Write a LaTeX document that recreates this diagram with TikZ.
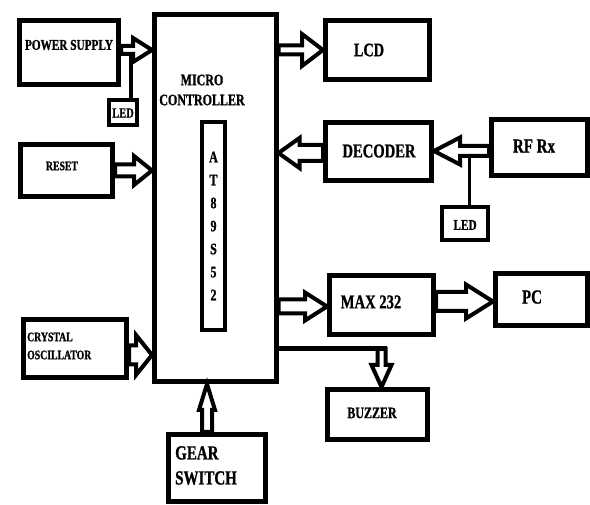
\documentclass[tikz,border=0pt]{standalone}
\usepackage{fontspec}
\setmainfont{Liberation Serif}[FakeStretch=0.75, FakeBold=1]
\usetikzlibrary{calc,backgrounds}
\tikzset{
  box/.style={draw, line width=5pt, inner sep=0pt, rectangle},
  ledbox/.style={draw, line width=4pt, inner sep=0pt, rectangle},
  txt/.style={inner sep=0pt, font=\bfseries},
  harrowst/.style={draw, fill=white, line width=4pt, line join=miter, miter limit=6},
  wire/.style={draw, line width=4pt},
}
\newcommand{\fsz}[2]{\fontsize{#1}{#2}\selectfont}
% hollow arrow: from, to, shaft width, head width, head length
\newcommand{\harr}[5]{%
  \path[harrowst] let \p1=(#1), \p2=(#2),
    \n1={atan2(\y2-\y1,\x2-\x1)}, \n2={veclen(\x2-\x1,\y2-\y1)} in
    [shift={(\p1)}, rotate=\n1]
    (0pt,{#3/2*1pt}) -- ({(\n2-#5)*1pt},{#3/2*1pt}) -- ({(\n2-#5)*1pt},{#4/2*1pt})
    -- ({\n2*1pt},0pt) -- ({(\n2-#5)*1pt},{-#4/2*1pt}) -- ({(\n2-#5)*1pt},{-#3/2*1pt})
    -- (0pt,{-#3/2*1pt}) -- cycle;}
\begin{document}
\begin{tikzpicture}[x=1pt,y=-1pt]
\useasboundingbox (0,0) rectangle (590,505);
% boxes
\node[box, minimum width=99pt, minimum height=64pt] (ps) at (69,52.5) {};
\node[ledbox, minimum width=28pt, minimum height=25pt] (ledl) at (123,112.5) {};
\node[box, minimum width=92pt, minimum height=52pt] (rst) at (66.5,170.5) {};
\node[box, minimum width=103pt, minimum height=58pt] (cry) at (75,348.5) {};
\node[box, minimum width=97pt, minimum height=67pt] (gear) at (217,468) {};
\node[box, minimum width=121.5pt, minimum height=367pt] (mc) at (215.25,198) {};
\node[ledbox, minimum width=23pt, minimum height=208pt] (at) at (213.5,226) {};
\node[box, minimum width=104pt, minimum height=59pt] (lcd) at (377.5,50) {};
\node[box, minimum width=106pt, minimum height=58pt] (dec) at (378.5,151.5) {};
\node[box, minimum width=96pt, minimum height=56pt] (rf) at (539.5,147.5) {};
\node[ledbox, minimum width=46pt, minimum height=33pt] (ledr) at (465,223.5) {};
\node[box, minimum width=104pt, minimum height=59pt] (max) at (381.5,305) {};
\node[box, minimum width=92pt, minimum height=52pt] (pc) at (541.5,299.5) {};
\node[box, minimum width=100pt, minimum height=50pt] (buz) at (377.5,414.5) {};
% texts
\node[txt, font=\bfseries\fsz{15}{15}] (psT) at (69,45) {POWER SUPPLY};
\node[txt, font=\bfseries\fsz{16}{20}, align=center] (mcT) at (202,90) {MICRO\\CONTROLLER};
\node[txt, font=\bfseries\fsz{14}{14}] (ledlT) at (123,113) {LED};
\node[txt, font=\bfseries\fsz{13}{13}] (rstT) at (62,166) {RESET};
\node[txt, font=\bfseries\fsz{13}{18}, align=left, anchor=west] (cryT) at (27,346) {CRYSTAL\\OSCILLATOR};
\node[txt, font=\bfseries\fsz{20}{25}, align=left, anchor=west] (gearT) at (175,465.5) {GEAR\\SWITCH};
\node[txt, font=\bfseries\fsz{16}{23}, align=center] (atT) at (213.5,226) {A\\T\\8\\9\\S\\5\\2};
\node[txt, font=\bfseries\fsz{19}{19}] (lcdT) at (369,50) {LCD};
\node[txt, font=\bfseries\fsz{19.5}{19.5}] (decT) at (379,151) {DECODER};
\node[txt, font=\bfseries\fsz{20}{20}] (rfT) at (534,146) {RF Rx};
\node[txt, font=\bfseries\fsz{15}{15}] (ledrT) at (465,225) {LED};
\node[txt, font=\bfseries\fsz{19.5}{19.5}] (maxT) at (371,302) {MAX 232};
\node[txt, font=\bfseries\fsz{20}{20}] (pcT) at (532,297) {PC};
\node[txt, font=\bfseries\fsz{16}{16}] (buzT) at (372,413) {BUZZER};
% junction coordinates
\coordinate (psjoin) at (130.5,50);
\coordinate (rfjoin) at (469,151);
\coordinate (bz) at (381.5,349);
\coordinate (bzend) at (387,349);
\begin{scope}[on background layer]
  \draw[wire] (ledl.north -| psjoin) -- (psjoin);
  \draw[wire, line width=3pt] (ledr.north -| rfjoin) -- (rfjoin);
  \harr{ps.east |- 0,50}{mc.west |- 0,50}{8}{24}{19}
  \harr{rst.east |- 0,170.5}{mc.west |- 0,170.5}{12}{29}{18}
  \harr{cry.east |- 0,355}{mc.west |- 0,355}{19}{40}{16}
  \harr{gear.north -| 207,0}{mc.south -| 207,0}{10}{16}{26}
  \harr{mc.east |- 0,50}{lcd.west |- 0,50}{9}{32}{21}
  \harr{dec.west |- 0,153}{mc.east |- 0,153}{16}{30}{21}
  \harr{rf.west |- 0,151}{dec.east |- 0,151}{10}{27}{26}
  \harr{mc.east |- 0,306.5}{max.west |- 0,306.5}{14}{28}{22}
  \harr{max.east |- 0,301.5}{pc.west |- 0,301.5}{19}{34}{27}
  \harr{bz}{buz.north -| bz}{8}{20}{22}
  \draw[line width=5pt] (mc.east |- bz) -- (bzend);
\end{scope}
\end{tikzpicture}
\end{document}
